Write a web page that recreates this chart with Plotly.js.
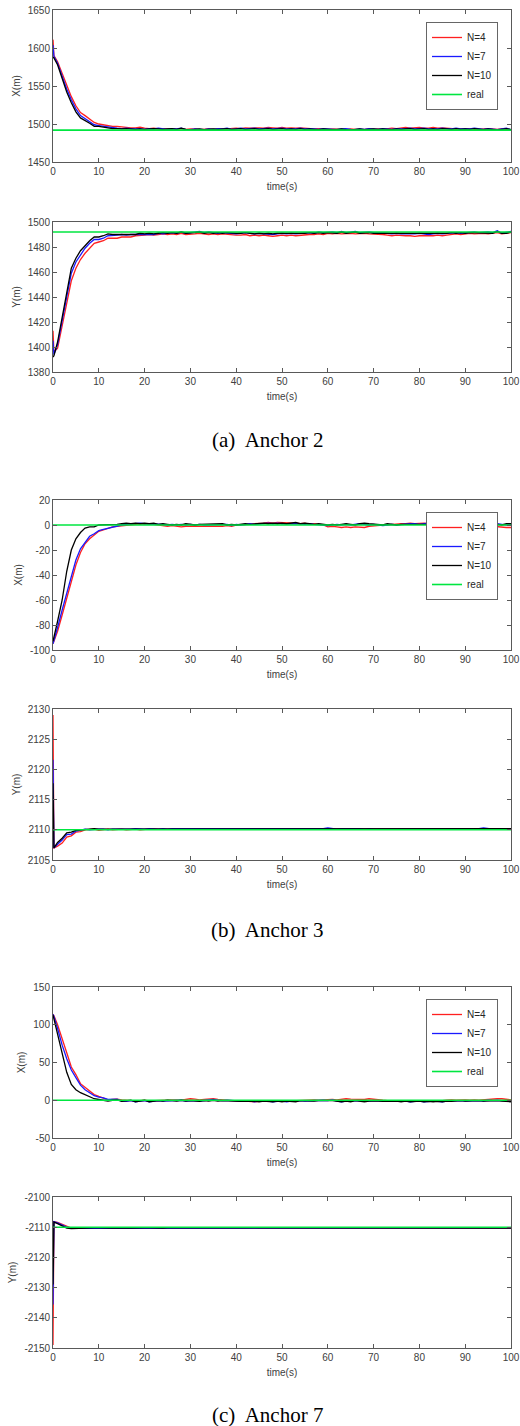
<!DOCTYPE html>
<html>
<head>
<meta charset="utf-8">
<script src="https://cdn.plot.ly/plotly-3.0.1.min.js"></script>
<style>html,body{margin:0;padding:0;background:#fff;}#chart{width:520px;height:1426px;}</style>
</head>
<body>
<div id="chart"></div>
<script>
// ---------- data ----------
const t = [0,0.2,1,2,3,4,5,6,7,8,9,10,
11,12,13,14,15,16,17,18,19,20,
21,22,23,24,25,26,27,28,29,30,
31,32,33,34,35,36,37,38,39,40,
41,42,43,44,45,46,47,48,49,50,
51,52,53,54,55,56,57,58,59,60,
61,62,63,64,65,66,67,68,69,70,
71,72,73,74,75,76,77,78,79,80,
81,82,83,84,85,86,87,88,89,90,
91,92,93,94,95,96,97,98,99,100];
const tRealEnds = [0, 100];
const seriesNames = ['N=4','N=7','N=10','real'];
const captions = ['(a)\u00a0 Anchor 2','(b)\u00a0 Anchor 3','(c)\u00a0 Anchor 7'];
const xTitle = 'time(s)';
const xTicks = [0,10,20,30,40,50,60,70,80,90,100];
const xLabels = ['0','10','20','30','40','50','60','70','80','90','100'];

// Anchor 2 - X
const x2_n4 = [1611,1590,1582,1566,1550,1536,1524,1515,1511,1506,1502,1500,
1499,1497,1497,1497,1496,1496,1495,1495,1496,1494.5,
1494,1494.5,1493.5,1494,1493.5,1494,1493.5,1494,1493,1493.5,
1493.5,1492.5,1493,1493.5,1493,1493.5,1494,1493.5,1494,1494.5,
1494,1495,1494.5,1495,1495,1494.5,1495.5,1495,1494.5,1495.5,
1494.5,1495,1494.5,1495,1494.5,1494,1493.5,1494,1493.5,1493,
1493.5,1493,1492.5,1493,1493.5,1493,1492.5,1493,1493.5,1493,
1493.5,1493,1494,1494.5,1494,1495,1495.5,1494.5,1495,1495.5,
1494.5,1494.5,1495.5,1494.5,1495,1494.5,1494,1493.5,1494,1493.5,
1494,1493.5,1493,1493.5,1494,1493.5,1493,1494,1493.5,1492.5];
const x2_n7 = [1604,1589,1580,1563,1546,1532,1520,1511,1507,1503,1499,1498,
1497,1495.5,1495,1494.5,1494,1494.5,1494,1493.5,1494,1493,
1494,1493.5,1494.5,1493.5,1493,1494,1493.5,1494.5,1492.5,1492.5,
1493.5,1493,1492.5,1493.5,1493,1494,1493.5,1494.5,1493,1493.5,
1494.5,1493.5,1494,1494.5,1493.5,1494,1494.5,1493.5,1494,1494.5,
1493.5,1494,1493.5,1494.5,1493.5,1494,1493.5,1493,1494,1493.5,
1493,1492.5,1493.5,1494,1493,1492.5,1493.5,1493,1494,1493.5,
1493,1494,1493.5,1493,1494,1493.5,1494,1494.5,1493.5,1494,
1494.5,1493.5,1494,1493.5,1494.5,1494,1493.5,1494.5,1493.5,1494,
1493.5,1494.5,1493.5,1493,1494,1493.5,1492.5,1493.5,1494.5,1492.5];
const x2_n10 = [1588,1587,1578,1559,1542,1528,1516,1508,1505,1501,1497,1497,
1496,1494.5,1494,1494,1493.5,1494,1493.5,1493,1493.5,1493,
1493.5,1494,1493.5,1493,1493.5,1494,1493,1494.5,1493,1492,
1493,1493.5,1492.5,1493,1493.5,1493,1493.5,1494,1493,1493.5,
1494,1493,1493.5,1494,1493,1493.5,1494,1493,1493.5,1494,
1493,1493.5,1493,1494,1493,1493.5,1493,1492.5,1493.5,1493,
1492.5,1493,1493.5,1492.5,1492,1493,1493.5,1492.5,1493,1493.5,
1493,1493.5,1493,1492.5,1493.5,1493,1493.5,1494,1493,1493.5,
1494,1493,1493.5,1493,1494,1493.5,1493,1494,1493,1493.5,
1493,1494,1493,1492.5,1493.5,1493,1492,1493,1494,1492.5];
const real_x2 = 1492;

// Anchor 2 - Y
const y2_n4 = [1413,1396,1399,1417,1436,1453,1463,1470,1475,1479,1483,1484,
1485,1487,1487,1487,1488,1488,1488,1489,1489,1489.5,
1490,1489.5,1490,1490.5,1490,1490.5,1490,1491,1490,1490,
1490.5,1491,1490.5,1490,1490.5,1490,1490.5,1490,1490,1489.5,
1489.5,1490,1489,1489.5,1489,1489.5,1489,1488.5,1489,1489.5,
1489,1489.5,1489,1489.5,1489.5,1490,1490,1490.5,1490,1491,
1490.5,1491,1490.5,1491,1491,1490.5,1491,1491,1490.5,1490.5,
1490,1490,1489.5,1489,1489.5,1489,1489,1489,1488.5,1489,
1489,1488.5,1489,1489.5,1489,1489.5,1490,1490.5,1490,1490.5,
1491,1490.5,1491,1491,1490.5,1491,1491.5,1490.5,1491,1491.5];
const y2_n7 = [1405,1394,1402,1421,1441,1459,1468,1474,1479,1483,1486,1486,
1487,1489,1489,1489.5,1490,1489.5,1490,1490,1490.5,1490,
1490.5,1490,1491,1490.5,1491,1491.5,1491,1492,1491,1491.5,
1492,1492.5,1491.5,1492,1491.5,1491,1491.5,1491,1491,1490.5,
1491,1491.5,1491,1490.5,1491,1490.5,1490.5,1490,1490.5,1491,
1490.5,1491,1490.5,1491,1491,1491.5,1491,1492,1491.5,1492,
1492,1491.5,1492.5,1491.5,1492,1492.5,1491.5,1492,1492,1491.5,
1491.5,1491,1491,1490.5,1491,1490.5,1490.5,1490,1490.5,1491,
1490.5,1490,1490.5,1491,1490.5,1491,1491,1491.5,1491,1491.5,
1491.5,1492,1491.5,1492,1492,1491.5,1493,1491,1491.5,1492.5];
const y2_n10 = [1392,1393,1404,1424,1445,1463,1471,1477,1481,1485,1488,1488,
1489,1490.5,1490,1490,1490.5,1490,1490.5,1490,1491,1490.5,
1491,1490.5,1491,1491.5,1491,1491.5,1491,1492,1491,1491,
1491.5,1492,1491,1491.5,1491,1491.5,1491,1491.5,1491,1491,
1491,1491.5,1491,1490.5,1491,1490.5,1491,1490.5,1491,1491,
1490.5,1491,1490.5,1491,1491,1491.5,1491,1491.5,1491,1491.5,
1491.5,1491,1492,1491,1491.5,1492,1491,1491.5,1491.5,1491,
1491,1491,1490.5,1491,1490.5,1491,1490.5,1490.5,1491,1490.5,
1491,1490.5,1491,1490.5,1491,1491,1491.5,1491,1491.5,1491,
1491.5,1491.5,1491,1491.5,1491.5,1491,1492.5,1491,1491,1492];
const real_y2 = 1492;

// Anchor 3 - X
const x3_n4 = [-95,-93,-85,-72,-58,-44,-32,-22,-15,-11,-8,-5,
-4,-2.5,-1.5,-1,-0.5,0,0.5,0.5,1,0.5,
1,0.5,0,-0.5,-1,-0.5,-1,-1.5,-1,-1,
-1.5,-1,-1.5,-1.5,-1,-1.5,-1,-0.5,-1,0,
0,0.5,0.5,1,1,1.5,2,1.5,2,2,
1.5,2,1.5,1,1.5,0.5,1,0.5,0,-1.5,
-1,-1.5,-2,-1.5,-2,-1.5,-1.5,-2,-1,-0.5,
-0.5,0,0,0.5,0.5,1,1,1.5,1,1.5,
1.5,1,1,0.5,1,0.5,0,0.5,0,-0.5,
-0.5,-1,-0.5,-1,-1.5,-1,-1.5,-2,-2,-2];
const x3_n7 = [-95,-92,-82,-68,-54,-40,-28,-19,-14,-9,-7,-4.5,
-3.5,-2.5,-1.5,-0.5,0,0.5,1,1,1.5,1,
1,0.5,1,0.5,0,0.5,0,0.5,0,0.5,
0,0.5,0,0,0.5,0,0,0.5,-0.5,0.5,
0,0.5,1,0.5,1,1,1.5,1,1.5,1,
1,1.5,1,1,0.5,1,0.5,0.5,0,-0.5,
0,0.5,0,0.5,0,0.5,1,0.5,0,0.5,
0,-0.5,0,0.5,0,0.5,0.5,1,1,0.5,
1,1.5,1,0.5,1,0.5,1,0.5,0,0.5,
1,0.5,0,0.5,0,0.5,1,0.5,0,0.5];
const x3_n10 = [-93,-90,-77,-60,-37,-20,-11,-6,-2.5,-1.5,-1.5,0,
0,0,0.5,0.5,1,1.5,1,1.5,1,1.5,
1,1.5,0.5,1,0.5,0,0.5,0,1,0.5,
0,0.5,0.5,1,0.5,0.5,1,0,0.5,0,
0.5,1,0.5,1,1,1.5,1,1.5,1,1.5,
1,1.5,2,1,1.5,1,0.5,1,0.5,0,
0.5,0,0.5,1,0.5,0,1,1.5,1,0.5,
0.5,0,1,0.5,0,0.5,0.5,1,0.5,1,
1,0.5,1.5,1,0.5,1,0.5,1,0.5,0,
0.5,1,0.5,0,0.5,1,0.5,0,1,1];
const real_x3 = 0;

// Anchor 3 - Y
const y3_n4 = [2129,2107,2107.3,2107.8,2108.8,2109,2109.6,2109.7,2110,2110,2110.1,2109.9,
2110,2110.1,2110,2110.1,2110.1,2110,2110.1,2110.1,2110,2110.1,
2110.1,2110.2,2110.1,2110.1,2110.2,2110.1,2110.1,2110.2,2110.2,2110.1,
2110.2,2110.1,2110.2,2110.1,2110.1,2110.2,2110.1,2110.1,2110.2,2110.1,
2110.1,2110.2,2110.1,2110.1,2110.2,2110.1,2110.1,2110.2,2110.1,2110.1,
2110.2,2110.1,2110.1,2110.2,2110.1,2110.2,2110.1,2110.1,2110.2,2110.2,
2110.1,2110.2,2110.1,2110.2,2110.2,2110.1,2110.1,2110.2,2110.1,2110.1,
2110.2,2110.1,2110.1,2110.2,2110.1,2110.1,2110.2,2110.1,2110.1,2110.2,
2110.1,2110.1,2110.2,2110.1,2110.1,2110.2,2110.1,2110.1,2110.2,2110.1,
2110.1,2110.2,2110.1,2110.1,2110.2,2110.1,2110.2,2110.1,2110.1,2110.2];
const y3_n7 = [2121.6,2107,2107.6,2108.3,2109.2,2109.3,2109.8,2109.9,2110.1,2110,2110.1,2110.1,
2110.1,2110,2110.1,2110.1,2110,2110.1,2110.1,2110.2,2110.1,2110.1,
2110.2,2110.1,2110.1,2110.2,2110.1,2110.2,2110.2,2110.1,2110.2,2110.2,
2110.2,2110.1,2110.2,2110.1,2110.2,2110.1,2110.1,2110.2,2110.1,2110.1,
2110.1,2110.2,2110.1,2110.1,2110.1,2110.2,2110.1,2110.2,2110.1,2110.1,
2110.2,2110.1,2110.1,2110.1,2110.2,2110.1,2110.2,2110.1,2110.2,2110.3,
2110.2,2110.1,2110.2,2110.2,2110.3,2110.2,2110.2,2110.1,2110.2,2110.1,
2110.1,2110.2,2110.1,2110.1,2110.2,2110.1,2110.1,2110.1,2110.2,2110.1,
2110.1,2110.1,2110.2,2110.1,2110.2,2110.1,2110.1,2110.2,2110.1,2110.2,
2110.1,2110.1,2110.2,2110.3,2110.2,2110.1,2110.2,2110.1,2110.2,2110.2];
const y3_n10 = [2117.7,2107,2107.9,2108.6,2109.5,2109.6,2109.9,2110,2110.1,2110.1,2110.2,2110.1,
2110.1,2110.1,2110.2,2110.1,2110.1,2110.1,2110.2,2110.1,2110.2,2110.1,
2110.1,2110.2,2110.2,2110.1,2110.2,2110.1,2110.2,2110.2,2110.1,2110.2,
2110.1,2110.2,2110.1,2110.2,2110.2,2110.1,2110.1,2110.2,2110.1,2110.2,
2110.1,2110.1,2110.2,2110.1,2110.2,2110.1,2110.2,2110.1,2110.1,2110.2,
2110.1,2110.2,2110.1,2110.1,2110.2,2110.1,2110.1,2110.2,2110.2,2110.2,
2110.1,2110.2,2110.2,2110.1,2110.2,2110.2,2110.1,2110.2,2110.1,2110.1,
2110.2,2110.1,2110.2,2110.1,2110.1,2110.2,2110.1,2110.2,2110.1,2110.1,
2110.2,2110.1,2110.1,2110.2,2110.1,2110.2,2110.1,2110.1,2110.2,2110.1,
2110.2,2110.1,2110.2,2110.2,2110.1,2110.2,2110.1,2110.2,2110.2,2110.2];
const real_y3 = 2110;

// Anchor 7 - X
const x7_n4 = [114,112,100,80,63,44,34,22,17,12,7.5,5,
2.5,0.5,1,1.5,0.5,0,-0.5,-1,-0.5,0,
-1,-0.5,0,-0.5,0,0.5,0.5,0,1,2,
1.5,0.5,1,1.5,2,1,0.5,0,-0.5,-1,
-1.5,-1,-1.5,-2,-1.5,-1,-1.5,-1,-1.5,-1,
-0.5,-1,-0.5,0,-0.5,0,0.5,0,0.5,1,
1,0.5,1.5,2,1.5,1,1.5,1,2,1,
0.5,0,-0.5,-0.5,-1,-1,-1.5,-1,-1.5,-1,
-0.5,-1,-0.5,-1,-0.5,0,0.5,0,0.5,0.5,
0,0.5,0,0.5,1.5,1,2,2,1,0.5];
const x7_n7 = [114,111,95,73,55,40,30,20,14,10,6,4,
3,1,1.5,1.5,-1,-1.5,-0.5,-2,-1,-0.5,
-2,-1,-0.5,-1,-0.5,0,-0.5,0,-1,-0.5,
-0.5,-1,-0.5,0,1,0,-0.5,0,-0.5,-1,
-1,-1.5,-1,-2,-1,-1.5,-1,-2,-1.5,-1,
-2,-1,-1.5,-0.5,-1,-0.5,0,-0.5,0,-0.5,
0.5,-1,-2,-1,-1.5,-0.5,-1,-1.5,-1,-0.5,
-1,-1.5,-1,-1.5,-1,-1.5,-1,-2,-1.5,-1,
-2,-1.5,-1,-1.5,-2,-1,-0.5,-1,-0.5,-1,
-0.5,0,-0.5,-1,0,-0.5,0,-0.5,-1,-1.5];
const x7_n10 = [113,108,88,62,37,21,14,10,7,4.5,2,1,
0.5,-1,0,0.5,-1.5,-1,0,-2,-1,0,
-2,-1,-0.5,-1,0,-0.5,-1,0,-1,-0.5,
-1,-1.5,-0.5,-1,0,-1,-0.5,-1,-0.5,-1,
-1.5,-1,-1.5,-1,-2,-1,-1.5,-2,-1,-2,
-1,-1.5,-2,-0.5,-1,-0.5,-1,-0.5,-1,-0.5,
-0.5,-1,-2,-1,-2,-0.5,-1,-2,-1,-0.5,
-1,-1.5,-1,-1.5,-1,-2,-1,-2,-1.5,-1,
-2,-1.5,-2,-1.5,-2,-1,-1.5,-1,-0.5,-1,
-0.5,-1,-0.5,-1,-0.5,-1,-0.5,-1,-1.5,-2];
const real_x7 = 0;

// Anchor 7 - Y
const y7_n4 = [-2149,-2108.2,-2108.4,-2109,-2109.8,-2110.3,-2110.3,-2110.4,-2110.3,-2110.3,-2110.2,-2110.3,
-2110.2,-2110.3,-2110.2,-2110.2,-2110.3,-2110.2,-2110.2,-2110.3,-2110.2,-2110.2,
-2110.3,-2110.2,-2110.2,-2110.3,-2110.2,-2110.2,-2110.3,-2110.2,-2110.2,-2110.3,
-2110.2,-2110.2,-2110.3,-2110.2,-2110.2,-2110.3,-2110.2,-2110.2,-2110.3,-2110.2,
-2110.2,-2110.3,-2110.2,-2110.2,-2110.3,-2110.2,-2110.2,-2110.3,-2110.2,-2110.2,
-2110.3,-2110.2,-2110.2,-2110.3,-2110.2,-2110.2,-2110.3,-2110.2,-2110.2,-2110.3,
-2110.2,-2110.2,-2110.3,-2110.2,-2110.2,-2110.3,-2110.2,-2110.2,-2110.3,-2110.2,
-2110.2,-2110.3,-2110.2,-2110.2,-2110.3,-2110.2,-2110.2,-2110.3,-2110.2,-2110.2,
-2110.3,-2110.2,-2110.2,-2110.3,-2110.2,-2110.2,-2110.3,-2110.2,-2110.2,-2110.3,
-2110.2,-2110.2,-2110.3,-2110.2,-2110.2,-2110.3,-2110.2,-2110.2,-2110.3,-2110.2];
const y7_n7 = [-2135.6,-2108.2,-2108.6,-2109.3,-2110,-2110.4,-2110.4,-2110.3,-2110.4,-2110.3,-2110.2,-2110.3,
-2110.3,-2110.2,-2110.2,-2110.3,-2110.2,-2110.3,-2110.3,-2110.2,-2110.2,-2110.3,
-2110.2,-2110.3,-2110.2,-2110.2,-2110.3,-2110.3,-2110.2,-2110.2,-2110.3,-2110.2,
-2110.3,-2110.2,-2110.2,-2110.3,-2110.2,-2110.3,-2110.2,-2110.2,-2110.3,-2110.3,
-2110.2,-2110.2,-2110.3,-2110.2,-2110.3,-2110.2,-2110.2,-2110.3,-2110.3,-2110.2,
-2110.2,-2110.3,-2110.2,-2110.3,-2110.2,-2110.2,-2110.3,-2110.2,-2110.3,-2110.2,
-2110.2,-2110.3,-2110.3,-2110.2,-2110.2,-2110.3,-2110.2,-2110.3,-2110.2,-2110.2,
-2110.3,-2110.2,-2110.3,-2110.2,-2110.2,-2110.3,-2110.3,-2110.2,-2110.2,-2110.3,
-2110.2,-2110.3,-2110.2,-2110.2,-2110.3,-2110.2,-2110.3,-2110.2,-2110.2,-2110.3,
-2110.2,-2110.2,-2110.3,-2110.2,-2110.3,-2110.2,-2110.2,-2110.3,-2110.2,-2110.2];
const y7_n10 = [-2129,-2108.3,-2108.8,-2109.5,-2110.3,-2110.5,-2110.4,-2110.4,-2110.3,-2110.3,-2110.2,-2110.2,
-2110.3,-2110.2,-2110.3,-2110.3,-2110.2,-2110.2,-2110.3,-2110.2,-2110.3,-2110.2,
-2110.2,-2110.3,-2110.2,-2110.3,-2110.2,-2110.2,-2110.3,-2110.3,-2110.2,-2110.2,
-2110.3,-2110.2,-2110.3,-2110.2,-2110.2,-2110.3,-2110.2,-2110.3,-2110.2,-2110.2,
-2110.3,-2110.2,-2110.2,-2110.3,-2110.2,-2110.3,-2110.3,-2110.2,-2110.2,-2110.3,
-2110.2,-2110.3,-2110.2,-2110.2,-2110.3,-2110.2,-2110.3,-2110.2,-2110.2,-2110.3,
-2110.3,-2110.2,-2110.2,-2110.3,-2110.2,-2110.3,-2110.2,-2110.2,-2110.3,-2110.2,
-2110.2,-2110.3,-2110.2,-2110.3,-2110.3,-2110.2,-2110.2,-2110.3,-2110.2,-2110.3,
-2110.2,-2110.2,-2110.3,-2110.2,-2110.3,-2110.2,-2110.2,-2110.3,-2110.3,-2110.2,
-2110.2,-2110.3,-2110.2,-2110.2,-2110.3,-2110.2,-2110.3,-2110.2,-2110.2,-2110.3];
const real_y7 = -2110;

// y tick values and labels
const yTicks_x2 = [1450,1500,1550,1600,1650];
const yLabels_x2 = ['1450','1500','1550','1600','1650'];
const yTicks_y2 = [1380,1400,1420,1440,1460,1480,1500];
const yLabels_y2 = ['1380','1400','1420','1440','1460','1480','1500'];
const yTicks_x3 = [-100,-80,-60,-40,-20,0,20];
const yLabels_x3 = ['-100','-80','-60','-40','-20','0','20'];
const yTicks_y3 = [2105,2110,2115,2120,2125,2130];
const yLabels_y3 = ['2105','2110','2115','2120','2125','2130'];
const yTicks_x7 = [-50,0,50,100,150];
const yLabels_x7 = ['-50','0','50','100','150'];
const yTicks_y7 = [-2150,-2140,-2130,-2120,-2110,-2100];
const yLabels_y7 = ['-2150','-2140','-2130','-2120','-2110','-2100'];

// ---------- build ----------
const colors = ['#ff2020','#1a1aff','#000000','#00e640'];
const FONT = 'Liberation Sans, Arial, Helvetica, sans-serif';
const panels = [
  {ys:[x2_n4,x2_n7,x2_n10], real:real_x2, tv:yTicks_x2, tl:yLabels_x2, title:'X(m)', legend:'legend'},
  {ys:[y2_n4,y2_n7,y2_n10], real:real_y2, tv:yTicks_y2, tl:yLabels_y2, title:'Y(m)', legend:null},
  {ys:[x3_n4,x3_n7,x3_n10], real:real_x3, tv:yTicks_x3, tl:yLabels_x3, title:'X(m)', legend:'legend2'},
  {ys:[y3_n4,y3_n7,y3_n10], real:real_y3, tv:yTicks_y3, tl:yLabels_y3, title:'Y(m)', legend:null},
  {ys:[x7_n4,x7_n7,x7_n10], real:real_x7, tv:yTicks_x7, tl:yLabels_x7, title:'X(m)', legend:'legend3'},
  {ys:[y7_n4,y7_n7,y7_n10], real:real_y7, tv:yTicks_y7, tl:yLabels_y7, title:'Y(m)', legend:null}
];
const H = 1426, W = 520;
const pixTops = [10, 222, 500, 709, 987, 1197];
const pixBots = [162, 372, 650, 860, 1138, 1348];
const xDom = [53/W, 511/W];

const traces = [];
const layout = {
  width: W, height: H,
  margin: {l:0, r:0, t:0, b:0},
  paper_bgcolor: '#ffffff', plot_bgcolor: '#ffffff',
  font: {family: FONT, size: 10, color: '#404040'},
  showlegend: true,
  annotations: []
};
const axCommon = {
  showline: true, linecolor: '#595959', linewidth: 1, mirror: 'ticks',
  ticks: 'inside', ticklen: 4, tickcolor: '#595959', tickwidth: 1,
  showgrid: false, zeroline: false, tickmode: 'array',
  tickfont: {family: FONT, size: 10, color: '#404040'}, fixedrange: true
};
panels.forEach((p, i) => {
  const k = i + 1;
  const xa = k === 1 ? 'x' : 'x' + k;
  const ya = k === 1 ? 'y' : 'y' + k;
  const allY = p.ys.concat([[p.real, p.real]]);
  allY.forEach((yy, j) => {
    const isReal = j === 3;
    const tr = {x: isReal ? tRealEnds : t, y: yy, xaxis: xa, yaxis: ya, type: 'scatter', mode: 'lines',
      name: seriesNames[j], uid: 'p' + k + 's' + j,
      line: {color: colors[j], width: isReal ? 1.6 : 1.3}, hoverinfo: 'skip',
      showlegend: !!p.legend};
    if (p.legend) { tr.legend = p.legend; tr.legendgroup = 'g' + k + '_' + j; }
    traces.push(tr);
  });

  const yDom = [1 - pixBots[i]/H, 1 - pixTops[i]/H];
  layout[k === 1 ? 'xaxis' : 'xaxis' + k] = Object.assign({}, axCommon, {
    domain: xDom, anchor: ya, range: [xTicks[0], xTicks[xTicks.length-1]],
    tickvals: xTicks, ticktext: xLabels,
    title: {text: xTitle, font: {family: FONT, size: 10, color: '#404040'}, standoff: 6}
  });
  layout[k === 1 ? 'yaxis' : 'yaxis' + k] = Object.assign({}, axCommon, {
    domain: yDom, anchor: xa, range: [p.tv[0], p.tv[p.tv.length-1]],
    tickvals: p.tv, ticktext: p.tl,
    title: {text: p.title, font: {family: FONT, size: 10, color: '#404040'}, standoff: 5}
  });
  if (p.legend) {
    layout[p.legend] = {
      x: 498/W, xanchor: 'right', y: 1 - (pixTops[i] + 12)/H, yanchor: 'top',
      bgcolor: '#ffffff', bordercolor: '#666666', borderwidth: 1,
      font: {family: FONT, size: 10, color: '#262626'}, tracegroupgap: 0, itemwidth: 30
    };
  }
});
const capY = [440, 930, 1415];
captions.forEach((c, i) => {
  layout.annotations.push({text: c, xref: 'paper', yref: 'paper', x: 267/W, y: 1 - capY[i]/H,
    xanchor: 'center', yanchor: 'middle', showarrow: false,
    font: {family: 'Liberation Serif, Times New Roman, serif', size: 21, color: '#000000'}});
});

Plotly.newPlot('chart', traces, layout, {staticPlot: true, displayModeBar: false});
</script>
</body>
</html>
